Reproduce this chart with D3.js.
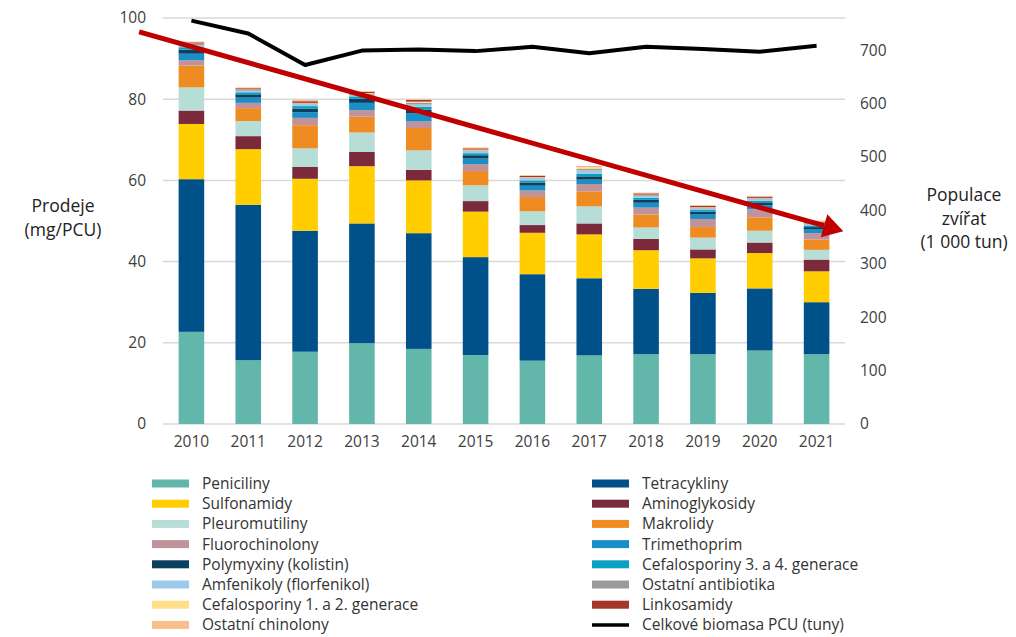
<!DOCTYPE html>
<html>
<head>
<meta charset="utf-8">
<script src="https://cdn.jsdelivr.net/npm/d3@7"></script>
<style>
  body { margin: 0; background: #fff; }
  text { font-family: "Open Sans", sans-serif; }
</style>
</head>
<body>
<div id="chart"></div>
<script>
// data
const years = ["2010","2011","2012","2013","2014","2015","2016","2017","2018","2019","2020","2021"];

const peniciliny      = [22.7, 15.7, 17.8, 19.9, 18.5, 17.0, 15.6, 16.9, 17.2, 17.2, 18.1, 17.2];
const tetracykliny    = [37.6, 38.3, 29.8, 29.5, 28.5, 24.1, 21.3, 19.0, 16.1, 15.1, 15.3, 12.8];
const sulfonamidy     = [13.6, 13.7, 12.8, 14.1, 13.0, 11.2, 10.2, 10.8, 9.5, 8.5, 8.7, 7.6];
const aminoglykosidy  = [3.3, 3.2, 2.9, 3.5, 2.6, 2.6, 1.9, 2.7, 2.8, 2.2, 2.6, 2.9];
const pleuromutiliny  = [5.7, 3.7, 4.6, 4.8, 4.8, 3.9, 3.4, 4.2, 2.8, 2.9, 2.9, 2.4];
const makrolidy       = [5.4, 3.2, 5.7, 3.9, 5.5, 3.5, 3.5, 3.7, 3.2, 2.6, 3.3, 2.5];
const fluorochinolony = [1.3, 1.3, 1.8, 1.6, 1.6, 1.7, 1.6, 1.8, 1.7, 2.0, 2.0, 1.6];
const trimethoprim    = [1.6, 1.3, 1.4, 1.8, 2.0, 1.4, 1.2, 1.1, 1.2, 1.1, 1.0, 0.9];
const polymyxiny      = [1.0, 0.8, 0.9, 1.0, 0.9, 0.8, 0.8, 0.8, 0.7, 0.7, 0.7, 0.6];
const cefalo34        = [0.6, 0.5, 0.6, 0.6, 0.7, 0.5, 0.5, 0.6, 0.5, 0.4, 0.4, 0.4];
const amfenikoly      = [0.5, 0.4, 0.5, 0.4, 0.6, 0.5, 0.5, 0.9, 0.5, 0.4, 0.4, 0.4];
const ostatniAb       = [0.3, 0.2, 0.2, 0.2, 0.4, 0.2, 0.2, 0.3, 0.2, 0.2, 0.2, 0.2];
const cefalo12        = [0.1, 0.1, 0.1, 0.2, 0.3, 0.2, 0.1, 0.5, 0.1, 0.1, 0.1, 0.1];
const linkosamidy     = [0.3, 0.3, 0.4, 0.3, 0.4, 0.3, 0.3, 0.1, 0.3, 0.3, 0.3, 0.2];
const ostatniChin     = [0.2, 0.2, 0.3, 0.2, 0.2, 0.2, 0.2, 0.1, 0.2, 0.2, 0.2, 0.3];

const biomasa = [755, 731, 672, 699, 701, 698, 706, 694, 706, 702, 697, 708];

const leftTicks = [0, 20, 40, 60, 80, 100];
const rightTicks = [0, 100, 200, 300, 400, 500, 600, 700];

// red trend arrow: [step offset from first / last year, value on left axis]
const trendStart = [-0.92, 96.6];
const trendEnd = [0.47, 47.5];

const seriesNames = ["Peniciliny", "Tetracykliny", "Sulfonamidy", "Aminoglykosidy", "Pleuromutiliny",
  "Makrolidy", "Fluorochinolony", "Trimethoprim", "Polymyxiny (kolistin)", "Cefalosporiny 3. a 4. generace",
  "Amfenikoly (florfenikol)", "Ostatní antibiotika", "Cefalosporiny 1. a 2. generace", "Linkosamidy", "Ostatní chinolony"];
const seriesValues = [peniciliny, tetracykliny, sulfonamidy, aminoglykosidy, pleuromutiliny, makrolidy,
  fluorochinolony, trimethoprim, polymyxiny, cefalo34, amfenikoly, ostatniAb, cefalo12, linkosamidy, ostatniChin];
const seriesColors = ["#63b7aa", "#00508a", "#ffcd00", "#7b2a3b", "#b6ded6", "#ee8c22", "#c0939b", "#1a8fc7",
  "#0b3f5e", "#0aa0c4", "#9dc9ea", "#9a9a9a", "#ffe08a", "#a6352a", "#f8bf8a"];

// legend layout: two columns as in the source
const legendLeft = ["Peniciliny", "Sulfonamidy", "Pleuromutiliny", "Fluorochinolony", "Polymyxiny (kolistin)",
  "Amfenikoly (florfenikol)", "Cefalosporiny 1. a 2. generace", "Ostatní chinolony"];
const legendRight = ["Tetracykliny", "Aminoglykosidy", "Makrolidy", "Trimethoprim", "Cefalosporiny 3. a 4. generace",
  "Ostatní antibiotika", "Linkosamidy", "Celkové biomasa PCU (tuny)"];

const width = 1016, height = 637;
const margin = {top: 18, right: 171, bottom: 213, left: 163};

const svg = d3.select("#chart").append("svg")
  .attr("width", width)
  .attr("height", height);

// build table for stacking
const table = years.map((y, i) => {
  const row = {year: y};
  seriesNames.forEach((n, k) => row[n] = seriesValues[k][i]);
  return row;
});
const stacked = d3.stack().keys(seriesNames)(table);
const color = d3.scaleOrdinal().domain(seriesNames).range(seriesColors);

// scales
const x = d3.scaleBand()
  .domain(years)
  .range([margin.left, width - margin.right])
  .paddingInner(0.55)
  .paddingOuter(0.275);
const yL = d3.scaleLinear().domain([0, 100]).range([height - margin.bottom, margin.top]);
const yR = d3.scaleLinear().domain([0, 760]).range([height - margin.bottom, margin.top]);

// gridlines
svg.append("g").selectAll("line")
  .data(leftTicks)
  .enter().append("line")
  .attr("x1", margin.left)
  .attr("x2", width - margin.right)
  .attr("y1", d => yL(d))
  .attr("y2", d => yL(d))
  .attr("stroke", "#d9d9d9")
  .attr("stroke-width", 1.5);

// axes
const axisL = svg.append("g")
  .attr("transform", `translate(${margin.left - 4}, 0)`)
  .call(d3.axisLeft(yL).tickValues(leftTicks).tickSize(0).tickPadding(13));
const axisR = svg.append("g")
  .attr("transform", `translate(${width - margin.right}, 0)`)
  .call(d3.axisRight(yR).tickValues(rightTicks).tickSize(0).tickPadding(15));
const axisB = svg.append("g")
  .attr("transform", `translate(0, ${height - margin.bottom})`)
  .call(d3.axisBottom(x).tickSize(0).tickPadding(12));
[axisL, axisR, axisB].forEach(a => {
  a.select(".domain").remove();
  a.selectAll("text").attr("font-size", 15.5).attr("fill", "#404040")
    .style("font-family", "'Open Sans', sans-serif");
});

// stacked bars
svg.append("g").selectAll("g")
  .data(stacked)
  .enter().append("g")
  .attr("fill", d => color(d.key))
  .selectAll("rect")
  .data(d => d)
  .enter().append("rect")
  .attr("x", d => x(d.data.year))
  .attr("y", d => yL(d[1]))
  .attr("width", x.bandwidth())
  .attr("height", d => yL(d[0]) - yL(d[1]));

// biomass line
const line = d3.line()
  .x((d, i) => x(years[i]) + x.bandwidth() / 2)
  .y(d => yR(d));
svg.append("path")
  .datum(biomasa)
  .attr("d", line)
  .attr("fill", "none")
  .attr("stroke", "#000")
  .attr("stroke-width", 4)
  .attr("stroke-linejoin", "round");

// red trend arrow
const step = x.step();
const x0 = x(years[0]) + x.bandwidth() / 2 + trendStart[0] * step;
const y0 = yL(trendStart[1]);
const x1 = x(years[years.length - 1]) + x.bandwidth() / 2 + trendEnd[0] * step;
const y1 = yL(trendEnd[1]);
const ang = Math.atan2(y1 - y0, x1 - x0);
const headLen = 20, headHalf = 12;
const bx = x1 - headLen * Math.cos(ang), by = y1 - headLen * Math.sin(ang);
svg.append("line")
  .attr("x1", x0).attr("y1", y0)
  .attr("x2", bx).attr("y2", by)
  .attr("stroke", "#c00000")
  .attr("stroke-width", 5);
svg.append("path")
  .attr("d", `M${x1},${y1}L${bx + headHalf * Math.sin(ang)},${by - headHalf * Math.cos(ang)}L${bx - headHalf * Math.sin(ang)},${by + headHalf * Math.cos(ang)}Z`)
  .attr("fill", "#c00000");

// axis titles
svg.append("text")
  .attr("x", 63).attr("y", 212)
  .attr("text-anchor", "middle")
  .attr("font-size", 17.5).attr("fill", "#222")
  .selectAll("tspan")
  .data(["Prodeje", "(mg/PCU)"])
  .enter().append("tspan")
  .attr("x", 63)
  .attr("dy", (d, i) => i === 0 ? 0 : 24)
  .text(d => d);

svg.append("text")
  .attr("x", 964).attr("y", 201)
  .attr("text-anchor", "middle")
  .attr("font-size", 17.5).attr("fill", "#222")
  .selectAll("tspan")
  .data(["Populace", "zvířat", "(1 000 tun)"])
  .enter().append("tspan")
  .attr("x", 964)
  .attr("dy", (d, i) => i === 0 ? 0 : 23.5)
  .text(d => d);

// legend
function drawLegendColumn(names, sx, tx) {
  const g = svg.append("g");
  const rows = g.selectAll("g")
    .data(names)
    .enter().append("g")
    .attr("transform", (d, i) => `translate(0, ${483.5 + i * 20.2})`);
  rows.each(function (d) {
    const r = d3.select(this);
    if (d === "Celkové biomasa PCU (tuny)") {
      r.append("line")
        .attr("x1", sx).attr("x2", sx + 37)
        .attr("y1", 0).attr("y2", 0)
        .attr("stroke", "#000").attr("stroke-width", 3.5);
    } else {
      r.append("rect")
        .attr("x", sx).attr("y", -4)
        .attr("width", 37).attr("height", 8)
        .attr("fill", color(d));
    }
  });
  rows.append("text")
    .attr("x", tx).attr("y", 0)
    .attr("dy", "0.35em")
    .attr("font-size", 15.5).attr("fill", "#333")
    .text(d => d);
}
drawLegendColumn(legendLeft, 152, 202);
drawLegendColumn(legendRight, 592, 642);
</script>
</body>
</html>
